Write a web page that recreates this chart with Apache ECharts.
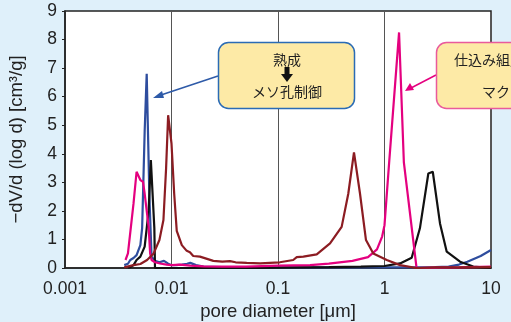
<!DOCTYPE html>
<html>
<head>
<meta charset="utf-8">
<script src="https://cdn.jsdelivr.net/npm/echarts@6/dist/echarts.min.js"></script>
<style>
  html, body { margin: 0; padding: 0; background: #dff0fa; }
  #chart { width: 511px; height: 322px; }
</style>
</head>
<body>
<div id="chart"></div>
<script>
// pore diameter [um] / -dV/d(log d) [cm3/g]
const blueX = [0.0036, 0.0039, 0.0041, 0.0044, 0.0047, 0.0049, 0.0051, 0.0053, 0.0056, 0.00585, 0.0062, 0.0065, 0.0070, 0.0077, 0.0085, 0.0093, 0.0100, 0.011, 0.0125, 0.014, 0.015, 0.017, 0.02, 0.03, 0.05, 0.1, 0.3, 1, 2, 3, 4, 5, 6, 8, 10];
const blueY = [0.1, 0.15, 0.28, 0.35, 0.45, 0.5, 0.8, 1.4, 4.8, 6.8, 2.5, 0.4, 0.25, 0.2, 0.25, 0.15, 0.1, 0.1, 0.12, 0.15, 0.18, 0.1, 0.05, 0.03, 0.02, 0.02, 0.02, 0.02, 0.02, 0.03, 0.05, 0.12, 0.22, 0.42, 0.63];

const blackX = [0.0039, 0.0041, 0.0044, 0.0047, 0.0051, 0.0056, 0.0061, 0.0064, 0.0066, 0.0069, 0.0070, 0.01, 0.05, 0.1, 0.3, 0.6, 1.0, 1.4, 1.8, 2.15, 2.58, 2.84, 3.32, 3.84, 5.12, 6.82, 10];
const blackY = [0.02, 0.03, 0.1, 0.28, 0.4, 0.75, 2.0, 3.78, 2.8, 1.4, 0.0, 0, 0, 0.01, 0.03, 0.05, 0.07, 0.16, 0.36, 1.39, 3.31, 3.37, 1.56, 0.57, 0.22, 0.05, 0];

const pinkX = [0.0037, 0.0039, 0.0044, 0.0047, 0.0051, 0.0054, 0.0056, 0.0061, 0.0063, 0.0065, 0.0070, 0.008, 0.009, 0.010, 0.012, 0.015, 0.02, 0.03, 0.05, 0.1, 0.2, 0.3, 0.5, 0.7, 0.85, 0.95, 1.0, 1.11, 1.37, 1.52, 2.0, 3, 5, 10];
const pinkY = [0.28, 0.51, 2.26, 3.37, 3.08, 3.02, 2.6, 1.44, 0.51, 0.28, 0.2, 0.15, 0.12, 0.1, 0.12, 0.08, 0.06, 0.05, 0.05, 0.08, 0.1, 0.15, 0.25, 0.38, 0.65, 1.1, 1.5, 3.78, 8.25, 3.7, 0.0, 0.01, 0.02, 0.05];

const maroonX = [0.0036, 0.0044, 0.0051, 0.0059, 0.0068, 0.0077, 0.0084, 0.0089, 0.0093, 0.0100, 0.0106, 0.0112, 0.0125, 0.0139, 0.0149, 0.016, 0.0185, 0.0247, 0.030, 0.0354, 0.04, 0.0508, 0.068, 0.104, 0.139, 0.15, 0.173, 0.231, 0.308, 0.396, 0.457, 0.517, 0.589, 0.67, 0.785, 1.05, 1.4, 2.0, 3, 5, 10];
const maroonY = [0.02, 0.1, 0.14, 0.28, 0.51, 0.98, 1.68, 3.5, 5.35, 4.36, 2.6, 1.3, 0.8, 0.6, 0.55, 0.42, 0.4, 0.25, 0.22, 0.24, 0.2, 0.18, 0.16, 0.2, 0.28, 0.38, 0.4, 0.48, 0.86, 1.44, 2.6, 4.05, 2.6, 0.98, 0.51, 0.28, 0.1, 0, 0.02, 0.02, 0.03];

const yTicks = [0, 1, 2, 3, 4, 5, 6, 7, 8, 9];
const xTicks = [0.001, 0.01, 0.1, 1, 10];

const zip = (xs, ys) => xs.map((x, i) => [x, ys[i]]);

const chart = echarts.init(document.getElementById('chart'));
const FONT = '"Liberation Sans", Arial, sans-serif';
const JFONT = '"Noto Sans CJK JP", sans-serif';

function line(name, xs, ys, color) {
  return {
    name: name,
    type: 'line',
    data: zip(xs, ys),
    showSymbol: false,
    lineStyle: { color: color, width: 2.2 },
    itemStyle: { color: color },
    silent: true,
    clip: true
  };
}

chart.setOption({
  backgroundColor: '#dff0fa',
  animation: false,
  grid: {
    left: 65, right: 20, top: 11, bottom: 54,
    outerBoundsMode: 'none',
    containLabel: false,
    show: true, backgroundColor: '#fff', borderColor: '#222', borderWidth: 1.5
  },
  xAxis: {
    type: 'log',
    logBase: 10,
    min: xTicks[0],
    max: xTicks[xTicks.length - 1],
    name: 'pore diameter [μm]',
    nameLocation: 'middle',
    nameGap: 32,
    nameTextStyle: { fontFamily: FONT, fontSize: 18.5, color: '#222' },
    axisLine: { lineStyle: { color: '#222', width: 1.5 } },
    axisTick: { show: false },
    axisLabel: {
      fontFamily: FONT, fontSize: 17.5, color: '#222', margin: 12,
      formatter: v => String(v)
    },
    splitLine: { show: true, lineStyle: { color: '#555', width: 1 } }
  },
  yAxis: {
    type: 'value',
    min: yTicks[0],
    max: yTicks[yTicks.length - 1],
    interval: 1,
    name: '−dV/d (log d) [cm³/g]',
    nameLocation: 'middle',
    nameGap: 39,
    nameTextStyle: { fontFamily: FONT, fontSize: 18.5, color: '#222' },
    axisLine: { show: true, lineStyle: { color: '#222', width: 1.5 } },
    axisTick: { show: true, length: 3, lineStyle: { color: '#222' } },
    axisLabel: { fontFamily: FONT, fontSize: 17.5, color: '#222', margin: 8 },
    splitLine: { show: false }
  },
  series: [
    line('blue', blueX, blueY, '#2e4d9e'),
    line('black', blackX, blackY, '#111111'),
    line('pink', pinkX, pinkY, '#e4007f'),
    line('maroon', maroonX, maroonY, '#8c1c22')
  ],
  graphic: [
    // callout 1
    { type: 'line', z: 100, shape: { x1: 218, y1: 76, x2: 158, y2: 96 }, style: { stroke: '#2e5aa8', lineWidth: 1.5 } },
    { type: 'polygon', z: 100, shape: { points: [[153, 98], [162, 91], [164, 98]] }, style: { fill: '#2e5aa8' } },
    { type: 'rect', z: 100, shape: { x: 218.5, y: 42.5, width: 136, height: 66, r: 10 }, style: { fill: '#fdeaa6', stroke: '#2a6bb5', lineWidth: 1.5 } },
    { type: 'text', z: 101, style: { x: 287, y: 60, text: '熟成', font: '14px ' + JFONT, fill: '#222', align: 'center', verticalAlign: 'middle' } },
    { type: 'polygon', z: 101, shape: { points: [[284.5, 67], [289.5, 67], [289.5, 74], [293, 74], [287, 82], [281, 74], [284.5, 74]] }, style: { fill: '#111' } },
    { type: 'text', z: 101, style: { x: 287, y: 92, text: 'メソ孔制御', font: '14px ' + JFONT, fill: '#222', align: 'center', verticalAlign: 'middle' } },
    // callout 2
    { type: 'line', z: 100, shape: { x1: 436, y1: 75, x2: 411, y2: 88 }, style: { stroke: '#e4007f', lineWidth: 1.5 } },
    { type: 'polygon', z: 100, shape: { points: [[405, 91], [410, 83], [414, 90]] }, style: { fill: '#e4007f' } },
    { type: 'rect', z: 100, shape: { x: 436.5, y: 42.5, width: 140, height: 66, r: 10 }, style: { fill: '#fdeaa6', stroke: '#e95a9c', lineWidth: 1.5 } },
    { type: 'text', z: 101, style: { x: 454, y: 60, text: '仕込み組成変更', font: '14px ' + JFONT, fill: '#222', align: 'left', verticalAlign: 'middle' } },
    { type: 'text', z: 101, style: { x: 482, y: 92, text: 'マクロ孔制御', font: '14px ' + JFONT, fill: '#222', align: 'left', verticalAlign: 'middle' } }
  ]
});
</script>
</body>
</html>
